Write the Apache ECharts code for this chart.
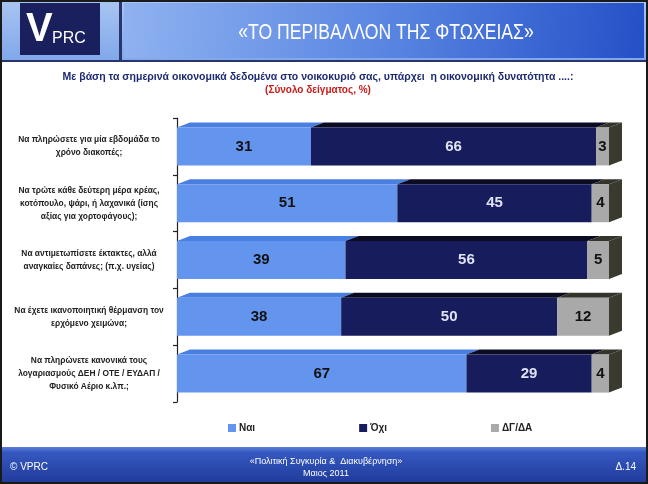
<!DOCTYPE html>
<html>
<head>
<meta charset="utf-8">
<script src="https://cdn.jsdelivr.net/npm/echarts@6/dist/echarts.min.js"></script>
<style>html,body{margin:0;padding:0;background:#fff;}#c{width:648px;height:484px;}</style>
</head>
<body>
<div id="c"></div>
<script>
const categories = [
  'Να πληρώσετε για μία εβδομάδα το\nχρόνο διακοπές;',
  'Να τρώτε κάθε δεύτερη μέρα κρέας,\nκοτόπουλο, ψάρι, ή λαχανικά (ίσης\nαξίας για χορτοφάγους);',
  'Να αντιμετωπίσετε έκτακτες, αλλά\nαναγκαίες δαπάνες; (π.χ. υγείας)',
  'Να έχετε ικανοποιητική θέρμανση τον\nερχόμενο χειμώνα;',
  'Να πληρώνετε κανονικά τους\nλογαριασμούς ΔΕΗ / ΟΤΕ / ΕΥΔΑΠ /\nΦυσικό Αέριο κ.λπ.;'
];
const seriesNames = ['Ναι', 'Όχι', 'ΔΓ/ΔΑ'];
const nai = [31, 51, 39, 38, 67];
const oxi = [66, 45, 56, 50, 29];
const dgda = [3, 4, 5, 12, 4];

const BAR_H = 38, DX = 13, DY = 5;
const FONT = '"Liberation Sans", Arial, sans-serif';

const chart = echarts.init(document.getElementById('c'));
const labelBase = {show: true, position: 'inside', fontFamily: FONT, fontWeight: 'bold', fontSize: 15};

const option = {
  animation: false,
  grid: {left: 177, right: 39, top: 118, height: 284, outerBoundsMode: 'none', containLabel: false},
  xAxis: {type: 'value', min: 0, max: 100, show: false},
  yAxis: {
    type: 'category', data: categories, inverse: true, offset: 12,
    axisLine: {show: true, lineStyle: {color: '#222', width: 1.2}},
    axisTick: {show: true, length: 4, lineStyle: {color: '#222', width: 1.2}},
    axisLabel: {align: 'center', margin: 76, fontFamily: FONT, fontWeight: 'bold', fontSize: 8.4, color: '#222', lineHeight: 13}
  },
  legend: {
    data: seriesNames, left: 223, top: 418, itemWidth: 8, itemHeight: 8, itemGap: 104,
    icon: 'rect', textStyle: {fontFamily: FONT, fontWeight: 'bold', fontSize: 10, color: '#222', padding: [0,0,0,-2]}
  },
  series: [
    {name: seriesNames[0], type: 'bar', stack: 's', barWidth: BAR_H, data: nai,
     itemStyle: {color: '#6395ee'}, label: Object.assign({color: '#111'}, labelBase)},
    {name: seriesNames[1], type: 'bar', stack: 's', barWidth: BAR_H, data: oxi,
     itemStyle: {color: '#161c5c'}, label: Object.assign({color: '#dfe2f2'}, labelBase)},
    {name: seriesNames[2], type: 'bar', stack: 's', barWidth: BAR_H, data: dgda,
     itemStyle: {color: '#a9a9a9'}, label: Object.assign({color: '#111'}, labelBase)},
    {type: 'custom', silent: true, z: 1,
     data: nai.map((v, i) => [i, nai[i], oxi[i], dgda[i]]),
     encode: {y: 0, x: [1, 2, 3]},
     renderItem: function (params, api) {
       const cat = api.value(0), a = api.value(1), b = api.value(2), c = api.value(3);
       const p0 = api.coord([0, cat]), p1 = api.coord([a, cat]), p2 = api.coord([a + b, cat]), p3 = api.coord([a + b + c, cat]);
       const yT = p0[1] - BAR_H / 2, yB = p0[1] + BAR_H / 2;
       const top = (xs, xe, col) => ({type: 'polygon', shape: {points: [[xs, yT], [xs + DX, yT - DY], [xe + DX, yT - DY], [xe, yT]]}, style: {fill: col}});
       return {type: 'group', children: [
         top(p0[0], p1[0], '#4a7fe2'),
         top(p1[0], p2[0], '#0b0c22'),
         top(p2[0], p3[0], '#34342c'),
         {type: 'polygon', shape: {points: [[p3[0], yT], [p3[0] + DX, yT - DY], [p3[0] + DX, yB - DY], [p3[0], yB]]}, style: {fill: '#3a3a2f'}}
       ]};
     }
    }
  ],
  graphic: [
    {type: 'rect', shape: {x: 0, y: 0, width: 648, height: 62}, style: {fill: new echarts.graphic.LinearGradient(0, 0, 0, 1, [{offset: 0, color: '#a9c6f2'}, {offset: 1, color: '#7fa7ea'}])}, z: -10},
    {type: 'rect', shape: {x: 20, y: 3, width: 80, height: 52}, style: {fill: '#1a1f5e'}},
    {type: 'text', style: {x: 26, y: 50, text: 'V', fill: '#fff', font: 'bold 40px ' + FONT, textVerticalAlign: 'bottom'}},
    {type: 'text', style: {x: 52, y: 47, text: 'PRC', fill: '#fff', font: '16px ' + FONT, textVerticalAlign: 'bottom'}},
    {type: 'rect', shape: {x: 119, y: 0, width: 3, height: 62}, style: {fill: '#2a3570'}},
    {type: 'rect', shape: {x: 124, y: 3, width: 520, height: 55}, style: {fill: new echarts.graphic.LinearGradient(0, 0, 1, 1, [{offset: 0, color: '#8fb2f0'}, {offset: 0.5, color: '#5a86e2'}, {offset: 1, color: '#2450c8'}])}},
    {type: 'rect', shape: {x: 0, y: 60, width: 648, height: 2}, style: {fill: '#2a3570'}},
    {type: 'text', x: 386, y: 33, scaleX: 0.8, style: {x: 0, y: 0, text: '«ΤΟ ΠΕΡΙΒΑΛΛΟΝ ΤΗΣ ΦΤΩΧΕΙΑΣ»', fill: '#fff', font: '22px ' + FONT, textAlign: 'center', textVerticalAlign: 'middle'}},
    {type: 'text', style: {x: 318, y: 77, text: 'Με βάση τα σημερινά οικονομικά δεδομένα στο νοικοκυριό σας, υπάρχει  η οικονομική δυνατότητα ....:', fill: '#1c2a70', font: 'bold 10.5px ' + FONT, textAlign: 'center', textVerticalAlign: 'middle'}},
    {type: 'text', style: {x: 318, y: 90, text: '(Σύνολο δείγματος, %)', fill: '#cc1a1a', font: 'bold 10px ' + FONT, textAlign: 'center', textVerticalAlign: 'middle'}},
    {type: 'rect', shape: {x: 0, y: 447, width: 648, height: 37}, style: {fill: new echarts.graphic.LinearGradient(0, 0, 0, 1, [{offset: 0, color: '#5b80d8'}, {offset: 0.15, color: '#3558c0'}, {offset: 1, color: '#1f3a9a'}])}, z: -10},
    {type: 'text', style: {x: 10, y: 467, text: '© VPRC', fill: '#fff', font: '10px ' + FONT, textVerticalAlign: 'middle'}},
    {type: 'text', style: {x: 326, y: 462, text: '«Πολιτική Συγκυρία &  Διακυβέρνηση»', fill: '#fff', font: '9px ' + FONT, textAlign: 'center', textVerticalAlign: 'middle'}},
    {type: 'text', style: {x: 326, y: 474, text: 'Μαιος 2011', fill: '#fff', font: '9px ' + FONT, textAlign: 'center', textVerticalAlign: 'middle'}},
    {type: 'text', style: {x: 636, y: 467, text: 'Δ.14', fill: '#fff', font: '10px ' + FONT, textAlign: 'right', textVerticalAlign: 'middle'}},
    {type: 'rect', shape: {x: 1, y: 1, width: 646, height: 482}, style: {fill: 'none', stroke: '#1a1a1a', lineWidth: 2}, z: 100}
  ]
};
chart.setOption(option);
</script>
</body>
</html>
